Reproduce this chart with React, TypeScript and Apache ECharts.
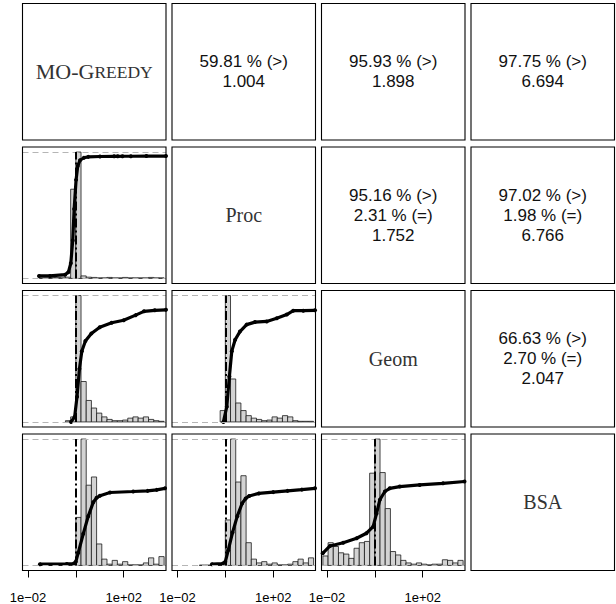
import { useEffect, useRef } from "react";
import * as echarts from "echarts";

// ---------- data ----------
const varNames = ["MO-Greedy", "Proc", "Geom", "BSA"];

// upper-triangle texts: [row, col, lines]
const upperRows = [0, 0, 0, 1, 1, 2];
const upperCols = [1, 2, 3, 2, 3, 3];
const upperLines: string[][] = [
  ["59.81 % (>)", "1.004"],
  ["95.93 % (>)", "1.898"],
  ["97.75 % (>)", "6.694"],
  ["95.16 % (>)", "2.31 % (=)", "1.752"],
  ["97.02 % (>)", "1.98 % (=)", "6.766"],
  ["66.63 % (>)", "2.70 % (=)", "2.047"],
];

// axis (log10 of ratio)
const logMin = -2.23;
const logMax = 3.77;
const tickExponents = [-2, 0, 2];
const labelExponents = [-2, 2];
const binWidthLog10 = 0.5 / Math.LN10; // bins of 0.5 in natural log

// lower panels: row / col of each panel
const lowerRows = [1, 2, 2, 3, 3, 3];
const lowerCols = [0, 0, 1, 0, 1, 2];

// histogram: first bin index and relative heights (max = 1)
const histStart = [-7, -2, -1, -7, -5, -10];
const histR2C1 = [0.005, 0.005, 0.008, 0.008, 0.01, 0.01, 0.706, 1.0, 0.02, 0.01, 0.008, 0.005, 0.005, 0.008, 0.005, 0.005, 0.008, 0.005, 0.005, 0.005, 0.005, 0.008, 0.005, 0.005];
const histR3C1 = [0.01, 0.04, 1.0, 0.32, 0.17, 0.11, 0.07, 0.04, 0.02, 0.01, 0.01, 0.015, 0.03, 0.04, 0.03, 0.04, 0.02, 0.01, 0.005];
const histR3C2 = [0.09, 1.0, 0.34, 0.15, 0.09, 0.05, 0.03, 0.02, 0.01, 0.015, 0.04, 0.03, 0.05, 0.04, 0.01, 0.005, 0.005, 0.005];
const histR4C1 = [0.003, 0.003, 0.003, 0.003, 0.003, 0.003, 0.003, 0.38, 1.0, 0.635, 0.7, 0.17, 0.05, 0.01, 0.04, 0.01, 0.03, 0.005, 0.005, 0.005, 0.02, 0.06, 0.01, 0.07];
const histR4C2 = [0.003, 0.003, 0.003, 0.003, 0.003, 0.36, 1.0, 0.66, 0.71, 0.18, 0.05, 0.02, 0.03, 0.01, 0.02, 0.005, 0.005, 0.01, 0.03, 0.05, 0.02, 0.06];
const histR4C3 = [0.075, 0.18, 0.15, 0.1, 0.09, 0.056, 0.136, 0.18, 0.19, 0.73, 1.0, 0.735, 0.45, 0.11, 0.083, 0.04, 0.02, 0.01, 0.02, 0.01, 0.005, 0.01, 0.01, 0.045, 0.04, 0.02, 0.04];

// cumulative curves: [log10 ratio, fraction]
const ecdfR2C1 = [[-1.54, 0.02], [-1.08, 0.02], [-0.45, 0.03], [-0.31, 0.05], [-0.21, 0.12], [-0.13, 0.3], [-0.07, 0.55], [0.01, 0.78], [0.08, 0.89], [0.175, 0.935], [0.34, 0.955], [0.52, 0.962], [1.01, 0.965], [1.6, 0.966], [1.75, 0.966], [1.95, 0.967], [2.3, 0.967], [2.95, 0.968], [3.77, 0.968]];
const ecdfR3C1 = [[-0.2, 0.0], [-0.05, 0.04], [0.05, 0.2], [0.15, 0.42], [0.25, 0.56], [0.4, 0.64], [0.65, 0.7], [1.0, 0.75], [1.5, 0.785], [2.0, 0.805], [2.5, 0.845], [2.85, 0.875], [3.3, 0.883], [3.77, 0.887]];
const ecdfR3C2 = [[-0.08, 0], [0.06, 0.12], [0.17, 0.36], [0.27, 0.56], [0.41, 0.65], [0.61, 0.715], [0.89, 0.77], [1.24, 0.79], [1.73, 0.795], [2.15, 0.82], [2.57, 0.85], [2.84, 0.88], [3.26, 0.88], [3.75, 0.883]];
const ecdfR4C1 = [[-1.5, 0.01], [-0.38, 0.012], [-0.08, 0.015], [0.0, 0.03], [0.1, 0.1], [0.31, 0.25], [0.52, 0.39], [0.73, 0.5], [0.87, 0.535], [1.01, 0.552], [1.43, 0.577], [2.4, 0.585], [3.0, 0.59], [3.38, 0.598], [3.73, 0.61]];
const ecdfR4C2 = [[-0.56, 0.01], [-0.1, 0.015], [0.0, 0.03], [0.12, 0.12], [0.3, 0.26], [0.5, 0.39], [0.7, 0.49], [0.85, 0.53], [1.0, 0.55], [1.4, 0.57], [2.0, 0.58], [2.6, 0.59], [3.2, 0.6], [3.75, 0.61]];
const ecdfR4C3 = [[-2.18, 0.096], [-1.875, 0.154], [-1.32, 0.18], [-0.76, 0.215], [-0.35, 0.255], [-0.07, 0.307], [0.07, 0.41], [0.21, 0.52], [0.42, 0.585], [0.625, 0.61], [1.04, 0.624], [1.875, 0.637], [2.85, 0.65], [3.75, 0.664]];

const histograms = [histR2C1, histR3C1, histR3C2, histR4C1, histR4C2, histR4C3];
const ecdfs = [ecdfR2C1, ecdfR3C1, ecdfR3C2, ecdfR4C1, ecdfR4C2, ecdfR4C3];

// ---------- layout ----------
const PANEL_LEFT = [22.5, 172, 321.5, 471];
const PANEL_TOP = [3.5, 147, 290.5, 434];
const PANEL_W = 143.5;
const PANEL_H = 136.5;
const SANS = '"Liberation Sans", Arial, Helvetica, sans-serif';
const SERIF = '"Liberation Serif", "Times New Roman", serif';

function expLabel(v: number) {
  const e = Math.round(v);
  const s = String(Math.abs(e)).padStart(2, "0");
  return "1e" + (e < 0 ? "\u2212" : "+") + s;
}

function smallCaps(name: string) {
  let out = "";
  let cur = "";
  let curStyle = "";
  for (const ch of name) {
    const st = ch >= "a" && ch <= "z" ? "s" : "n";
    if (st !== curStyle && cur) {
      out += "{" + curStyle + "|" + cur + "}";
      cur = "";
    }
    curStyle = st;
    cur += ch.toUpperCase();
  }
  if (cur) out += "{" + curStyle + "|" + cur + "}";
  return out;
}

function buildOption() {
  const grid: any[] = [];
  const xAxis: any[] = [];
  const yAxis: any[] = [];
  const series: any[] = [];

  lowerRows.forEach((r, i) => {
    const c = lowerCols[i];
    const bottomRow = r === 3;
    grid.push({
      left: PANEL_LEFT[c],
      top: PANEL_TOP[r],
      width: PANEL_W,
      height: PANEL_H,
      containLabel: false,
      outerBoundsMode: "none",
    });
    xAxis.push({
      gridIndex: i,
      type: "value",
      position: "bottom",
      min: logMin,
      max: logMax,
      show: bottomRow,
      axisLine: { show: false, onZero: false },
      splitLine: { show: false },
      axisTick: {
        show: true,
        inside: false,
        customValues: tickExponents,
        length: 7,
        lineStyle: { color: "#000", width: 1 },
      },
      axisLabel: {
        show: true,
        customValues: labelExponents,
        formatter: (v: number) => expLabel(v),
        margin: 20,
        fontSize: 13,
        fontFamily: SANS,
        color: "#000",
        align: "center",
        alignMinLabel: "center",
        alignMaxLabel: "center",
        hideOverlap: false,
      },
    });
    yAxis.push({
      gridIndex: i,
      type: "value",
      min: -0.04,
      max: 1.04,
      show: false,
      splitLine: { show: false },
    });

    const hist = histograms[i];
    const histData = hist.map((h, j) => {
      const k = histStart[i] + j;
      return [k * binWidthLog10, (k + 1) * binWidthLog10, h];
    });
    series.push({
      type: "custom",
      xAxisIndex: i,
      yAxisIndex: i,
      z: 2,
      silent: true,
      clip: true,
      encode: { x: [0, 1], y: 2 },
      data: histData,
      renderItem: (_p: any, api: any) => {
        const a = api.coord([api.value(0), api.value(2)]);
        const b = api.coord([api.value(1), 0]);
        return {
          type: "rect",
          shape: { x: a[0], y: a[1], width: b[0] - a[0], height: b[1] - a[1] },
          style: { fill: "#d3d3d3", stroke: "#1a1a1a", lineWidth: 0.8 },
        };
      },
    });
    series.push({
      type: "line",
      xAxisIndex: i,
      yAxisIndex: i,
      z: 3,
      silent: true,
      data: ecdfs[i],
      showSymbol: true,
      symbol: "circle",
      symbolSize: 4,
      itemStyle: { color: "#000" },
      lineStyle: { color: "#000", width: 3.2 },
      markLine: {
        silent: true,
        symbol: "none",
        label: { show: false },
        data: [
          { yAxis: 0, lineStyle: { color: "#b5b5b5", type: [6, 4], width: 1 } },
          { yAxis: 1, lineStyle: { color: "#b5b5b5", type: [6, 4], width: 1 } },
          [
            { coord: [0, 0], lineStyle: { color: "#000", type: [9, 3, 2, 3], width: 2 } },
            { coord: [0, 1] },
          ],
        ],
      },
    });
  });

  const graphic: any[] = [];
  for (let r = 0; r < 4; r++) {
    for (let c = 0; c < 4; c++) {
      graphic.push({
        type: "rect",
        z: 100,
        silent: true,
        shape: { x: PANEL_LEFT[c], y: PANEL_TOP[r], width: PANEL_W, height: PANEL_H },
        style: { fill: "none", stroke: "#000", lineWidth: 1.1 },
      });
    }
  }
  upperRows.forEach((r, i) => {
    const c = upperCols[i];
    graphic.push({
      type: "text",
      z: 100,
      silent: true,
      x: PANEL_LEFT[c] + PANEL_W / 2,
      y: PANEL_TOP[r] + PANEL_H / 2,
      style: {
        text: upperLines[i].join("\n"),
        align: "center",
        verticalAlign: "middle",
        fontSize: 17,
        lineHeight: 20,
        fontFamily: SANS,
        fill: "#111",
      },
    });
  });
  varNames.forEach((name, d) => {
    const hasLower = /[a-z]/.test(name) && /^[A-Z]{2}-/.test(name);
    graphic.push({
      type: "text",
      z: 100,
      silent: true,
      x: PANEL_LEFT[d] + PANEL_W / 2,
      y: PANEL_TOP[d] + PANEL_H / 2,
      style: hasLower
        ? {
            text: smallCaps(name),
            align: "center",
            verticalAlign: "middle",
            fill: "#333",
            rich: {
              n: { fontSize: 22, fontFamily: SERIF, fill: "#333" },
              s: { fontSize: 17.5, fontFamily: SERIF, fill: "#333" },
            },
          }
        : {
            text: name,
            align: "center",
            verticalAlign: "middle",
            fontSize: 20,
            fontFamily: SERIF,
            fill: "#333",
          },
    });
  });

  return {
    animation: false,
    backgroundColor: "#fff",
    grid,
    xAxis,
    yAxis,
    series,
    graphic,
  };
}

export default function App() {
  const ref = useRef<HTMLDivElement>(null);
  useEffect(() => {
    if (!ref.current) return;
    const chart = echarts.init(ref.current, null, { renderer: "svg" });
    chart.setOption(buildOption() as any);
    return () => chart.dispose();
  }, []);
  return (
    <div
      ref={ref}
      style={{ position: "fixed", left: 0, top: 0, width: 616, height: 604, background: "#fff" }}
    />
  );
}
